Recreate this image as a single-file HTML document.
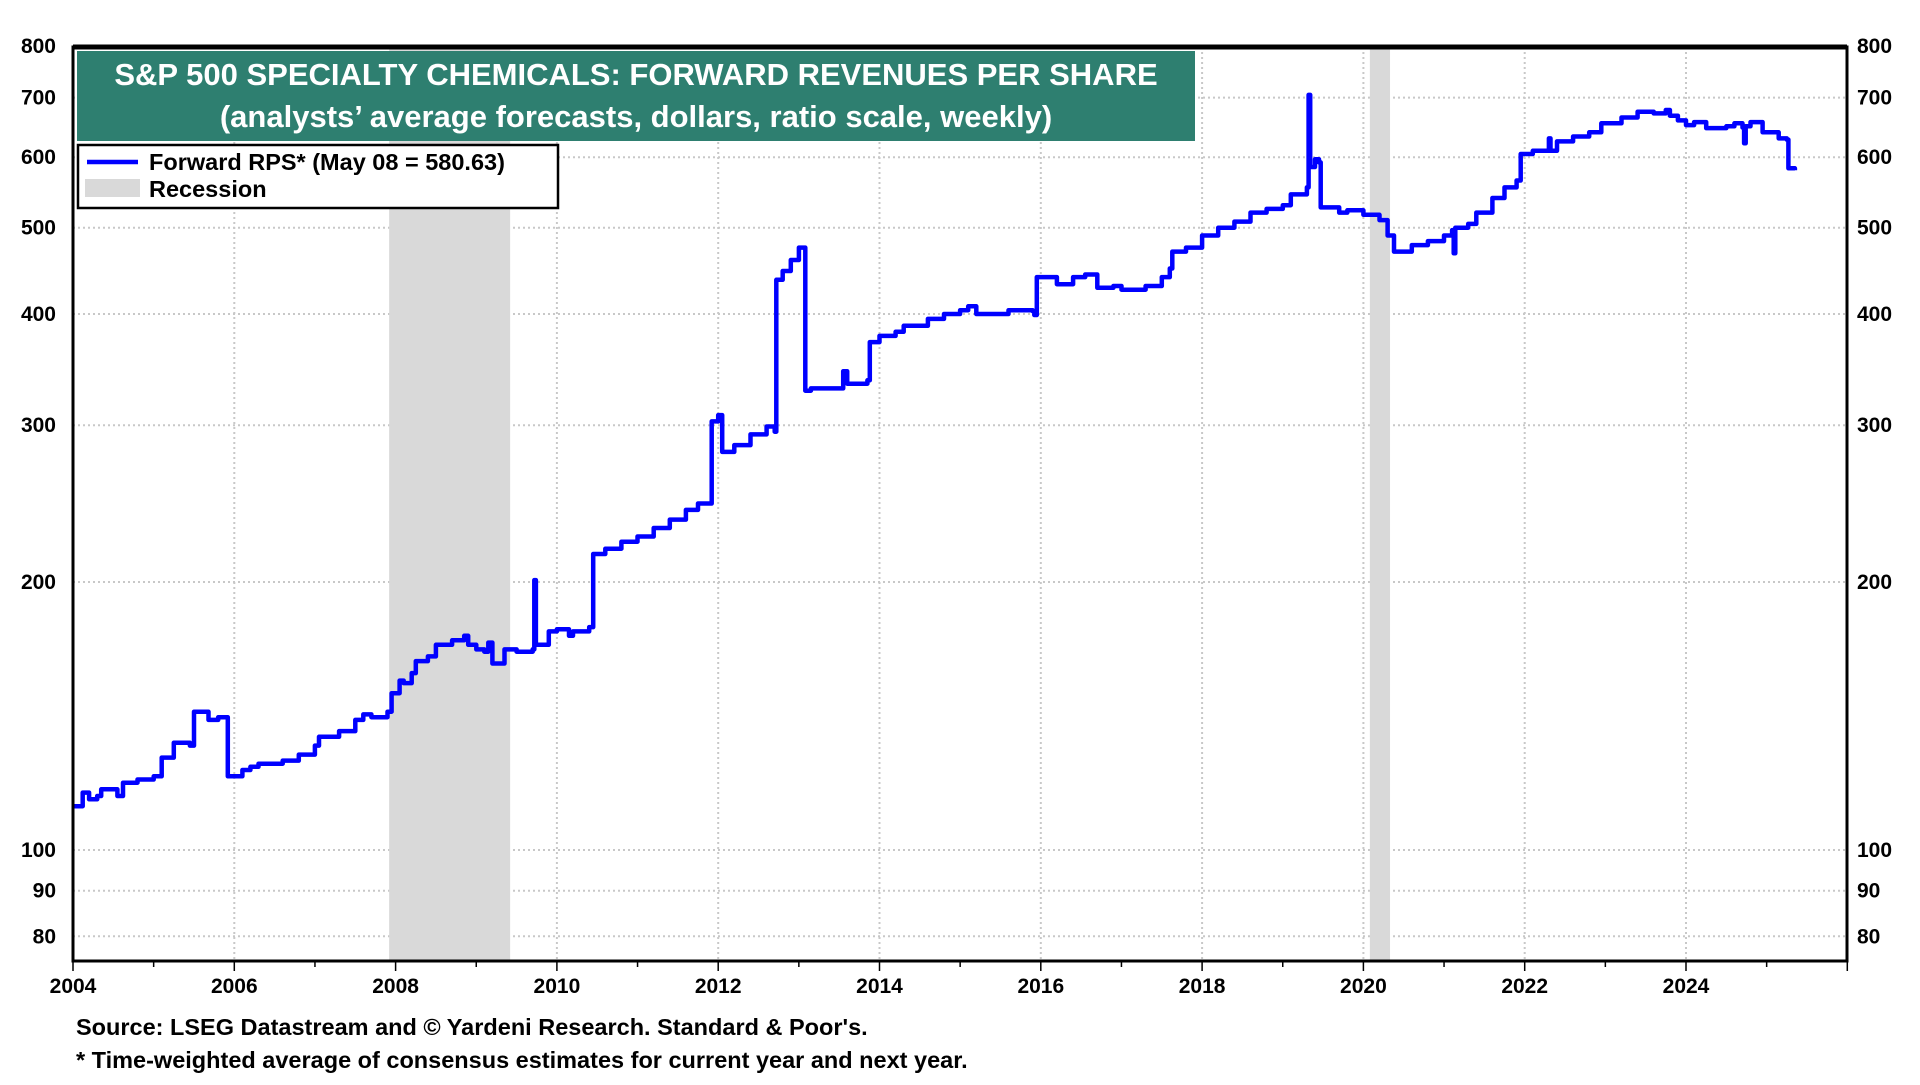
<!DOCTYPE html>
<html><head><meta charset="utf-8">
<style>
html,body{margin:0;padding:0;background:#fff;}
body{width:1920px;height:1080px;overflow:hidden;font-family:"Liberation Sans",Arial,sans-serif;}
svg text{font-family:"Liberation Sans",Arial,sans-serif;font-weight:bold;}
</style></head>
<body>
<svg id="chart" width="1920" height="1080" xmlns="http://www.w3.org/2000/svg">
  <g id="grid"></g>
  <g id="rec"></g>
  <g id="series"></g>
  <g id="axes"></g>
  <rect x="77" y="51" width="1118" height="90" fill="#2e7f70"/>
  <text x="636" y="85" fill="#fff" font-size="31" text-anchor="middle">S&amp;P 500 SPECIALTY CHEMICALS: FORWARD REVENUES PER SHARE</text>
  <text x="636" y="127" fill="#fff" font-size="31" text-anchor="middle">(analysts’ average forecasts, dollars, ratio scale, weekly)</text>
  <g>
    <rect x="78" y="145" width="480" height="63" fill="#fff" stroke="#000" stroke-width="2.5"/>
    <line x1="87" y1="162" x2="138" y2="162" stroke="#0000ff" stroke-width="4.5"/>
    <text x="149" y="170" font-size="23.5">Forward RPS* (May 08 = 580.63)</text>
    <rect x="85" y="179" width="55" height="18" fill="#d9d9d9"/>
    <text x="149" y="197" font-size="23.5">Recession</text>
  </g>
  <text x="76" y="1035" font-size="23.5">Source: LSEG Datastream and © Yardeni Research. Standard &amp; Poor's.</text>
  <text x="76" y="1068" font-size="23.5">* Time-weighted average of consensus estimates for current year and next year.</text>
</svg>
<script>
const yTicks=[80,90,100,200,300,400,500,600,700,800];
const xTicks=[2004,2006,2008,2010,2012,2014,2016,2018,2020,2022,2024];
const recStart=[2007.92,2020.08];
const recEnd=[2009.42,2020.33];
const dates=[2004.0,2004.1,2004.12,2004.2,2004.3,2004.35,2004.5,2004.55,2004.62,2004.8,2005.0,2005.1,2005.2,2005.25,2005.4,2005.45,2005.5,2005.65,2005.68,2005.8,2005.9,2005.92,2006.0,2006.1,2006.2,2006.3,2006.5,2006.6,2006.8,2007.0,2007.05,2007.3,2007.5,2007.6,2007.7,2007.9,2007.95,2008.05,2008.1,2008.2,2008.25,2008.4,2008.5,2008.7,2008.85,2008.9,2009.0,2009.1,2009.15,2009.2,2009.3,2009.35,2009.5,2009.7,2009.72,2009.74,2009.9,2010.0,2010.1,2010.15,2010.2,2010.4,2010.45,2010.6,2010.8,2011.0,2011.2,2011.4,2011.6,2011.75,2011.9,2011.92,2012.0,2012.05,2012.2,2012.4,2012.6,2012.7,2012.72,2012.8,2012.9,2013.0,2013.05,2013.08,2013.15,2013.3,2013.5,2013.55,2013.6,2013.85,2013.88,2014.0,2014.2,2014.3,2014.5,2014.6,2014.8,2015.0,2015.1,2015.2,2015.4,2015.6,2015.9,2015.92,2015.95,2016.05,2016.2,2016.4,2016.55,2016.7,2016.9,2017.0,2017.3,2017.5,2017.6,2017.63,2017.8,2018.0,2018.2,2018.4,2018.6,2018.8,2019.0,2019.1,2019.25,2019.3,2019.32,2019.34,2019.4,2019.45,2019.47,2019.7,2019.8,2020.0,2020.2,2020.3,2020.38,2020.5,2020.6,2020.8,2021.0,2021.1,2021.12,2021.14,2021.3,2021.4,2021.6,2021.75,2021.9,2021.95,2022.1,2022.3,2022.32,2022.4,2022.6,2022.8,2022.95,2023.2,2023.4,2023.6,2023.75,2023.8,2023.9,2024.0,2024.1,2024.25,2024.5,2024.6,2024.7,2024.72,2024.74,2024.8,2024.95,2025.1,2025.15,2025.25,2025.27,2025.35];
const values=[112,112,116,114,115,117,117,115,119,120,121,127,127,132,132,131,143,143,140,141,141,121,121,123,124,125,125,126,128,131,134,136,140,142,141,143,150,155,154,158,163,165,170,172,174,170,168,167,171,162,162,168,167,168,201,170,176,177,177,174,176,178,215,218,222,225,230,235,241,245,245,303,308,280,285,293,299,295,437,447,460,475,475,328,330,330,330,345,334,337,372,378,382,388,388,395,400,404,408,400,400,404,403,399,440,440,432,440,443,428,430,426,430,440,450,470,475,490,500,508,520,525,530,545,545,555,705,585,597,592,527,520,523,517,510,490,470,470,478,483,490,497,468,500,505,520,540,555,565,605,610,630,610,625,633,640,655,665,675,672,678,668,660,652,657,647,650,655,648,622,650,657,640,640,630,628,583,580];

const L=73,R=1847,T=47,B=961;
const NS='http://www.w3.org/2000/svg';
function xS(t){return L+(t-2004)*(1686-73)/20;}
function yS(v){return 850-268*Math.log2(v/100);}
function mk(tag,attrs,parent){const e=document.createElementNS(NS,tag);for(const k in attrs)e.setAttribute(k,attrs[k]);parent.appendChild(e);return e;}
const grid=document.getElementById('grid'),rec=document.getElementById('rec'),ser=document.getElementById('series'),axes=document.getElementById('axes');

yTicks.forEach(v=>{
  const y=yS(v);
  const g=mk('line',{x1:L,x2:R,y1:y,y2:y,stroke:'#c8c8c8','stroke-width':2,'stroke-dasharray':'2 3'},grid);
  
  
  const t1=mk('text',{x:L-17,y:y+7,'font-size':21,'text-anchor':'end'},axes);t1.textContent=v;
  
  
  const t2=mk('text',{x:R+10,y:y+7,'font-size':21,'text-anchor':'start'},axes);t2.textContent=v;
  
  
});
xTicks.forEach(t=>{
  const x=xS(t);
  if(t>2004){const g=mk('line',{x1:x,x2:x,y1:T,y2:B,stroke:'#c8c8c8','stroke-width':2,'stroke-dasharray':'2 3'},grid);
  
  }
  const tl=mk('text',{x:x,y:B+32,'font-size':21,'text-anchor':'middle'},axes);tl.textContent=t;
  
  
});
for(let yr=2004;yr<=2026;yr++){mk('line',{x1:xS(yr),x2:xS(yr),y1:B,y2:B+(yr%2?6:10),stroke:'#000','stroke-width':1.5},axes);}
recStart.forEach((s,i)=>{
  const r=mk('rect',{x:xS(s),y:T,width:xS(recEnd[i])-xS(s),height:B-T,fill:'#d9d9d9'},rec);
  
  
});
let d='';
dates.forEach((t,i)=>{
  const x=xS(t).toFixed(1),y=yS(values[i]).toFixed(1);
  if(i===0){d+='M'+x+' '+y;}
  else{d+='H'+x+'V'+y;}
});
const p=mk('path',{d:d,fill:'none',stroke:'#0000ff','stroke-width':4.5,'stroke-linejoin':'round'},ser);


const fr=mk('rect',{x:L,y:T,width:R-L,height:B-T,fill:'none',stroke:'#000','stroke-width':3},axes);


mk('line',{x1:L,x2:R,y1:T,y2:T,stroke:'#000','stroke-width':5},axes);
</script>
</body></html>
